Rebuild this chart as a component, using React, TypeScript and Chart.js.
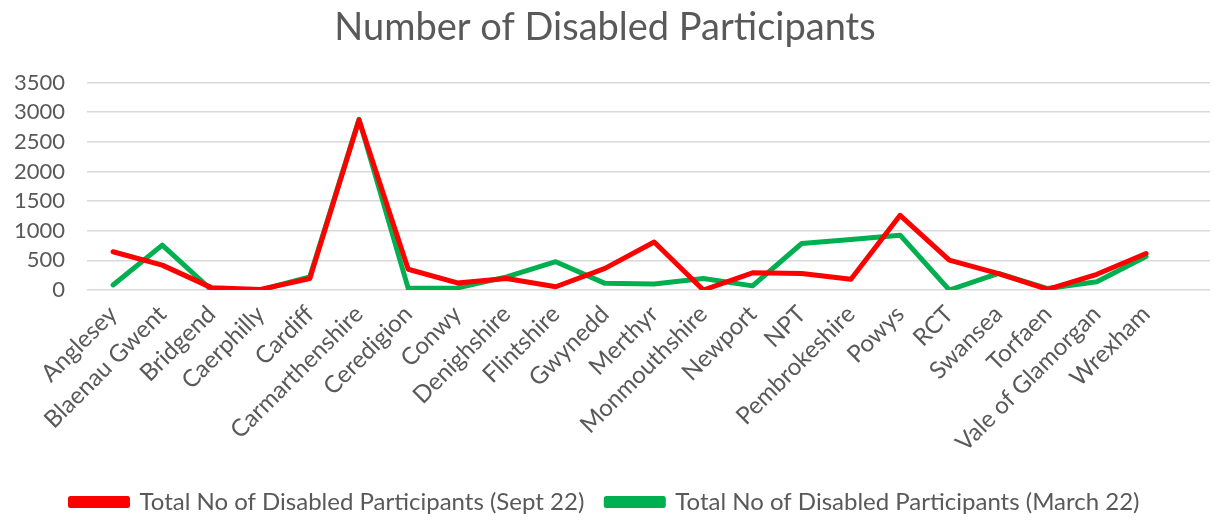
import React, { useEffect, useRef } from "react";
import { Chart, registerables } from "chart.js";

Chart.register(...registerables);

const categories = [
  "Anglesey", "Blaenau Gwent", "Bridgend", "Caerphilly", "Cardiff", "Carmarthenshire",
  "Ceredigion", "Conwy", "Denighshire", "Flintshire", "Gwynedd", "Merthyr",
  "Monmouthshire", "Newport", "NPT", "Pembrokeshire", "Powys", "RCT",
  "Swansea", "Torfaen", "Vale of Glamorgan", "Wrexham",
];

const sept22 = [645, 420, 40, 10, 195, 2870, 350, 120, 195, 55, 365, 810, 0, 290, 280, 180, 1260, 505, 275, 10, 265, 615];
const march22 = [85, 758, 0, 0, 222, 2880, 28, 35, 222, 478, 112, 100, 195, 70, 785, 852, 925, 0, 280, 25, 140, 565];

const yTicks = [0, 500, 1000, 1500, 2000, 2500, 3000, 3500];

const FONT = "Lato, 'Open Sans', sans-serif";
const TEXT = "#595959";

export default function App() {
  const ref = useRef<HTMLCanvasElement | null>(null);

  useEffect(() => {
    document.body.style.margin = "0";
    const ctx = ref.current;
    if (!ctx) return;
    const chart = new Chart(ctx, {
      type: "line",
      data: {
        datasets: [
          {
            label: "Total No of Disabled Participants (Sept 22)",
            data: sept22.map((v, i) => ({ x: i, y: v })),
            borderColor: "#FF0000",
            backgroundColor: "#FF0000",
            borderWidth: 5,
            pointRadius: 0,
            tension: 0,
            borderJoinStyle: "round",
            borderCapStyle: "round",
          },
          {
            label: "Total No of Disabled Participants (March 22)",
            data: march22.map((v, i) => ({ x: i, y: v })),
            borderColor: "#00B050",
            backgroundColor: "#00B050",
            borderWidth: 5,
            pointRadius: 0,
            tension: 0,
            borderJoinStyle: "round",
            borderCapStyle: "round",
          },
        ],
      },
      options: {
        animation: false,
        responsive: true,
        maintainAspectRatio: false,
        layout: { padding: { top: 0, right: 7, bottom: 0, left: 0 } },
        plugins: {
          title: {
            display: true,
            text: "Number of Disabled Participants",
            color: TEXT,
            font: { family: FONT, size: 38, weight: "normal" },
            padding: { top: 5, bottom: 32 },
          },
          legend: {
            position: "bottom",
            labels: {
              color: TEXT,
              font: { family: FONT, size: 24 },
              boxWidth: 57,
              boxHeight: 7,
              padding: 22,
            },
          },
          tooltip: { enabled: false },
        },
        scales: {
          x: {
            type: "linear",
            min: -0.53,
            max: 22.3,
            grid: { display: false },
            border: { display: false },
            afterBuildTicks: (scale: any) => {
              scale.ticks = categories.map((_, i) => ({ value: i }));
            },
            afterFit: (scale: any) => {
              scale.height = 178;
            },
            ticks: {
              autoSkip: false,
              minRotation: 45,
              maxRotation: 45,
              color: TEXT,
              font: { family: FONT, size: 24 },
              padding: 2,
              callback: (value: any) => categories[Number(value)] ?? "",
            },
          },
          y: {
            min: 0,
            max: 3500,
            afterBuildTicks: (scale: any) => {
              scale.ticks = yTicks.map((v) => ({ value: v }));
            },
            afterFit: (scale: any) => {
              scale.width = 87;
            },
            grid: { color: "#D9D9D9", lineWidth: 1.5, drawTicks: false },
            border: { display: false },
            ticks: {
              color: TEXT,
              font: { family: FONT, size: 22 },
              padding: 22,
              callback: (value: any) => String(value),
            },
          },
        },
      },
    });
    return () => chart.destroy();
  }, []);

  return (
    <div style={{ position: "absolute", left: 0, top: 0, width: 1217, height: 524 }}>
      <canvas ref={ref} />
    </div>
  );
}
